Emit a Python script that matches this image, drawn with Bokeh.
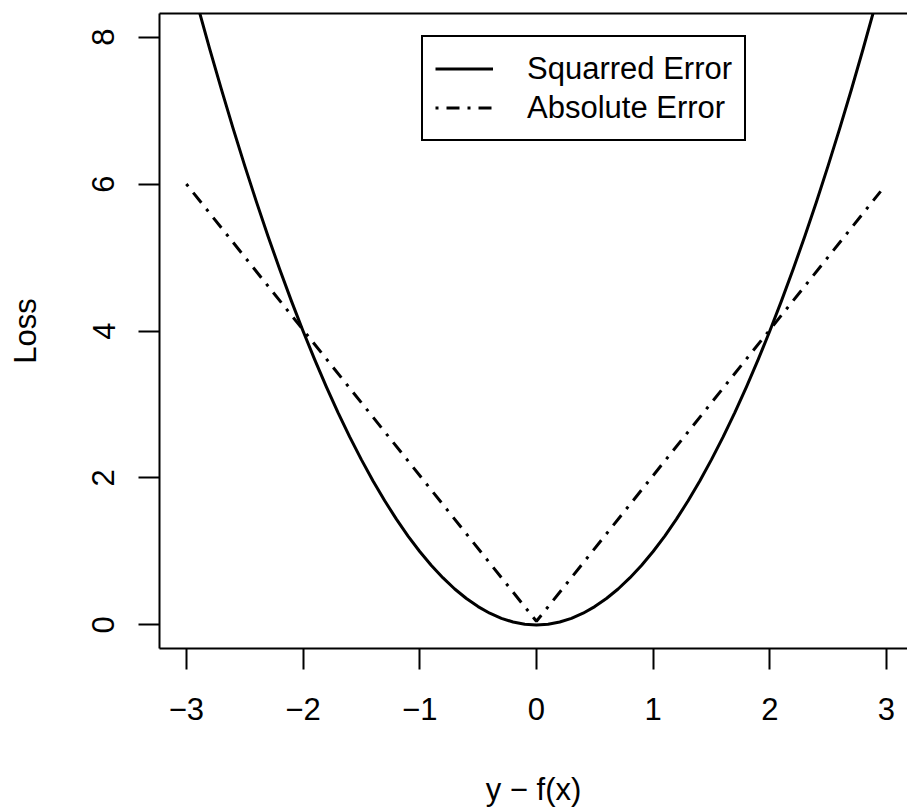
from bokeh.plotting import figure
from bokeh.models import Range1d, FixedTicker, LinearAxis, Legend, LegendItem
from bokeh.embed import file_html
from bokeh.resources import INLINE

# ---- data ----
sq_x = [-3.0, -2.9, -2.8, -2.7, -2.6, -2.5, -2.4, -2.3, -2.2, -2.1, -2.0,
        -1.9, -1.8, -1.7, -1.6, -1.5, -1.4, -1.3, -1.2, -1.1, -1.0,
        -0.9, -0.8, -0.7, -0.6, -0.5, -0.4, -0.3, -0.2, -0.1, 0.0,
        0.1, 0.2, 0.3, 0.4, 0.5, 0.6, 0.7, 0.8, 0.9, 1.0,
        1.1, 1.2, 1.3, 1.4, 1.5, 1.6, 1.7, 1.8, 1.9, 2.0,
        2.1, 2.2, 2.3, 2.4, 2.5, 2.6, 2.7, 2.8, 2.9, 3.0]
sq_y = [9.0, 8.41, 7.84, 7.29, 6.76, 6.25, 5.76, 5.29, 4.84, 4.41, 4.0,
        3.61, 3.24, 2.89, 2.56, 2.25, 1.96, 1.69, 1.44, 1.21, 1.0,
        0.81, 0.64, 0.49, 0.36, 0.25, 0.16, 0.09, 0.04, 0.01, 0.0,
        0.01, 0.04, 0.09, 0.16, 0.25, 0.36, 0.49, 0.64, 0.81, 1.0,
        1.21, 1.44, 1.69, 1.96, 2.25, 2.56, 2.89, 3.24, 3.61, 4.0,
        4.41, 4.84, 5.29, 5.76, 6.25, 6.76, 7.29, 7.84, 8.41, 9.0]
abs_x = [-3.0, 0.0, 2.95]
abs_y = [6.0, 0.05, 5.9]

x_ticks = [-3, -2, -1, 0, 1, 2, 3]
x_tick_labels = ["\u22123", "\u22122", "\u22121", "0", "1", "2", "3"]
y_ticks = [0, 2, 4, 6, 8]
y_tick_labels = ["0", "2", "4", "6", "8"]
legend_labels = ["Squarred Error", "Absolute Error"]
x_label = "y \u2212 f(x)"
y_label = "Loss"

FONT = "Liberation Sans"
FS = "31px"

p = figure(width=907, height=811, output_backend="svg", toolbar_location=None,
           x_range=Range1d(-3.23, 3.18), y_range=Range1d(-0.32, 8.32),
           min_border_left=159, min_border_right=0, min_border_top=13,
           min_border_bottom=163)
p.xgrid.visible = False
p.ygrid.visible = False
p.outline_line_color = None
p.background_fill_color = "white"
p.border_fill_color = "white"

r1 = p.line(sq_x, sq_y, line_color="black", line_width=3, line_join="round")
r2 = p.line(abs_x, abs_y, line_color="black", line_width=3, line_dash="3 8 13 8")

for ax, ticks, labels, lab in ((p.xaxis[0], x_ticks, x_tick_labels, x_label),
                               (p.yaxis[0], y_ticks, y_tick_labels, y_label)):
    ax.ticker = FixedTicker(ticks=ticks)
    ax.major_label_overrides = {t: l for t, l in zip(ticks, labels)}
    ax.axis_label = lab
    ax.axis_line_width = 2
    ax.axis_line_color = "black"
    ax.major_tick_line_width = 2
    ax.major_tick_line_color = "black"
    ax.major_tick_in = 0
    ax.major_tick_out = 21
    ax.minor_tick_line_color = None
    ax.major_label_text_font = FONT
    ax.major_label_text_font_size = FS
    ax.major_label_text_color = "black"
    ax.axis_label_text_font = FONT
    ax.axis_label_text_font_size = FS
    ax.axis_label_text_font_style = "normal"
    ax.axis_label_text_color = "black"

p.xaxis[0].major_label_standoff = 28
p.xaxis[0].axis_label_standoff = 49
p.yaxis[0].major_label_orientation = "parallel"
p.yaxis[0].major_label_standoff = 24
p.yaxis[0].axis_label_standoff = 47

top_axis = LinearAxis(ticker=FixedTicker(ticks=[]), axis_line_width=2,
                      axis_line_color="black", major_tick_out=0, major_tick_in=0,
                      minor_tick_line_color=None, major_label_standoff=0,
                      major_label_text_font_size="0px")
p.add_layout(top_axis, "above")

legend = Legend(items=[LegendItem(label=legend_labels[0], renderers=[r1]),
                       LegendItem(label=legend_labels[1], renderers=[r2])],
                location=(262, 507), orientation="vertical",
                border_line_color="black", border_line_width=2,
                border_line_alpha=1.0,
                background_fill_color="white", background_fill_alpha=1.0,
                padding=12, spacing=0, margin=0,
                glyph_width=58, glyph_height=39, label_height=39,
                label_standoff=34,
                label_text_font=FONT, label_text_font_size=FS,
                label_text_color="black", label_text_baseline="middle")
p.add_layout(legend)

open("out.html", "w").write(file_html(p, INLINE))
